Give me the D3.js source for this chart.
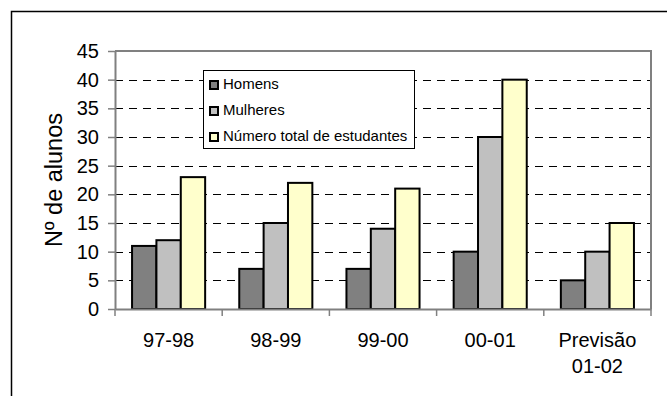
<!DOCTYPE html>
<html>
<head>
<meta charset="utf-8">
<script src="https://cdn.jsdelivr.net/npm/d3@7"></script>
<style>
  html, body { margin: 0; padding: 0; background: #fff; }
  svg { display: block; font-family: "Liberation Sans", Arial, sans-serif; }
  svg text { font-family: "Liberation Sans", Arial, sans-serif; }
</style>
</head>
<body>
<svg id="chart" width="667" height="396"></svg>
<script>
// Student counts per academic year
const categories = ["97-98", "98-99", "99-00", "00-01", "Previsão\n01-02"];
const seriesNames = ["Homens", "Mulheres", "Número total de estudantes"];
const homens = [11, 7, 7, 10, 5];
const mulheres = [12, 15, 14, 30, 10];
const total = [23, 22, 21, 40, 15];
const yTicks = [0, 5, 10, 15, 20, 25, 30, 35, 40, 45];
const colors = ["#808080", "#C0C0C0", "#FFFFCC"];

const seriesValues = [homens, mulheres, total];
const rows = categories.map((c, i) => ({
  cat: c,
  vals: seriesValues.map((s, k) => ({ key: seriesNames[k], v: s[i], k }))
}));

const svg = d3.select("#chart");
const plot = { left: 115, top: 51, right: 651, bottom: 309 };
const axisColor = "#808080";

// Outer chart frame
svg.append("rect")
  .attr("x", 11.5).attr("y", 11.5)
  .attr("width", 700).attr("height", 400)
  .attr("fill", "none").attr("stroke", "#000").attr("stroke-width", 1.5);

const x = d3.scaleBand().domain(categories).range([plot.left, plot.right]).paddingInner(0).paddingOuter(0);
const xInner = d3.scaleBand().domain(seriesNames).range([0, x.bandwidth()]).paddingOuter(0.7).paddingInner(0);
const y = d3.scaleLinear().domain([0, 45]).range([plot.bottom, plot.top]);

// Dashed gridlines
svg.append("g")
  .selectAll("line")
  .data(yTicks.filter(t => t > 0 && t < 45))
  .join("line")
  .attr("x1", plot.left).attr("x2", plot.right)
  .attr("y1", d => Math.round(y(d)) + 0.5).attr("y2", d => Math.round(y(d)) + 0.5)
  .attr("stroke", "#000").attr("stroke-width", 1)
  .attr("stroke-dasharray", "8,6");

// Plot area border (top and right)
svg.append("path")
  .attr("d", `M${plot.left},${plot.top} H${plot.right} V${plot.bottom}`)
  .attr("fill", "none").attr("stroke", axisColor).attr("stroke-width", 2);

// Bars
const groups = svg.append("g").selectAll("g")
  .data(rows)
  .join("g")
  .attr("transform", d => `translate(${x(d.cat)},0)`);

groups.selectAll("rect")
  .data(d => d.vals)
  .join("rect")
  .attr("x", d => xInner(d.key))
  .attr("y", d => y(d.v))
  .attr("width", xInner.bandwidth())
  .attr("height", d => y(0) - y(d.v))
  .attr("fill", d => colors[d.k])
  .attr("stroke", "#000").attr("stroke-width", 2);

// Y axis
const yAxis = d3.axisLeft(y).tickValues(yTicks).tickSize(7).tickPadding(9).tickSizeOuter(0);
const gy = svg.append("g").attr("transform", `translate(${plot.left},0)`).call(yAxis);
gy.select(".domain").attr("stroke", axisColor).attr("stroke-width", 2);
gy.selectAll(".tick line").attr("stroke", axisColor).attr("stroke-width", 1.5);
gy.selectAll(".tick text").attr("font-size", 20).attr("fill", "#000")
  .attr("font-family", "Liberation Sans, Arial, sans-serif");

// X axis with boundary ticks between categories
const xAxis = d3.axisBottom(x).tickSize(0).tickFormat(() => "");
const gx = svg.append("g").attr("transform", `translate(0,${plot.bottom})`).call(xAxis);
gx.select(".domain").attr("stroke", axisColor).attr("stroke-width", 2);
svg.append("g").selectAll("line")
  .data(categories.map(c => x(c)).concat([plot.right]))
  .join("line")
  .attr("x1", d => d).attr("x2", d => d)
  .attr("y1", plot.bottom).attr("y2", plot.bottom + 7)
  .attr("stroke", axisColor).attr("stroke-width", 1.5);

gx.selectAll(".tick").each(function(d) {
  const t = d3.select(this).append("text")
    .attr("fill", "#000").attr("font-size", 20)
    .attr("text-anchor", "middle")
    .attr("font-family", "Liberation Sans, Arial, sans-serif");
  d.split("\n").forEach((line, i) => {
    t.append("tspan").attr("x", 0).attr("y", 38 + i * 26).text(line);
  });
});

// Y axis title
svg.append("text")
  .attr("transform", `translate(62,${(plot.top + plot.bottom) / 2}) rotate(-90)`)
  .attr("text-anchor", "middle")
  .attr("font-size", 23.5)
  .attr("fill", "#000")
  .text("Nº de alunos");

// Legend
const legend = svg.append("g").attr("transform", "translate(203,70)");
legend.append("rect")
  .attr("x", 0.5).attr("y", 0.5).attr("width", 211).attr("height", 78)
  .attr("fill", "#fff").attr("stroke", "#000").attr("stroke-width", 1);
const items = legend.selectAll("g.item")
  .data(seriesNames)
  .join("g").attr("class", "item")
  .attr("transform", (d, i) => `translate(0,${19 + i * 26})`);
items.append("rect")
  .attr("x", 7).attr("y", -8).attr("width", 8).attr("height", 8)
  .attr("fill", (d, i) => colors[i]).attr("stroke", "#000").attr("stroke-width", 2);
items.append("text")
  .attr("x", 20).attr("y", 0)
  .attr("font-size", 15).attr("fill", "#000")
  .text(d => d);
</script>
</body>
</html>
